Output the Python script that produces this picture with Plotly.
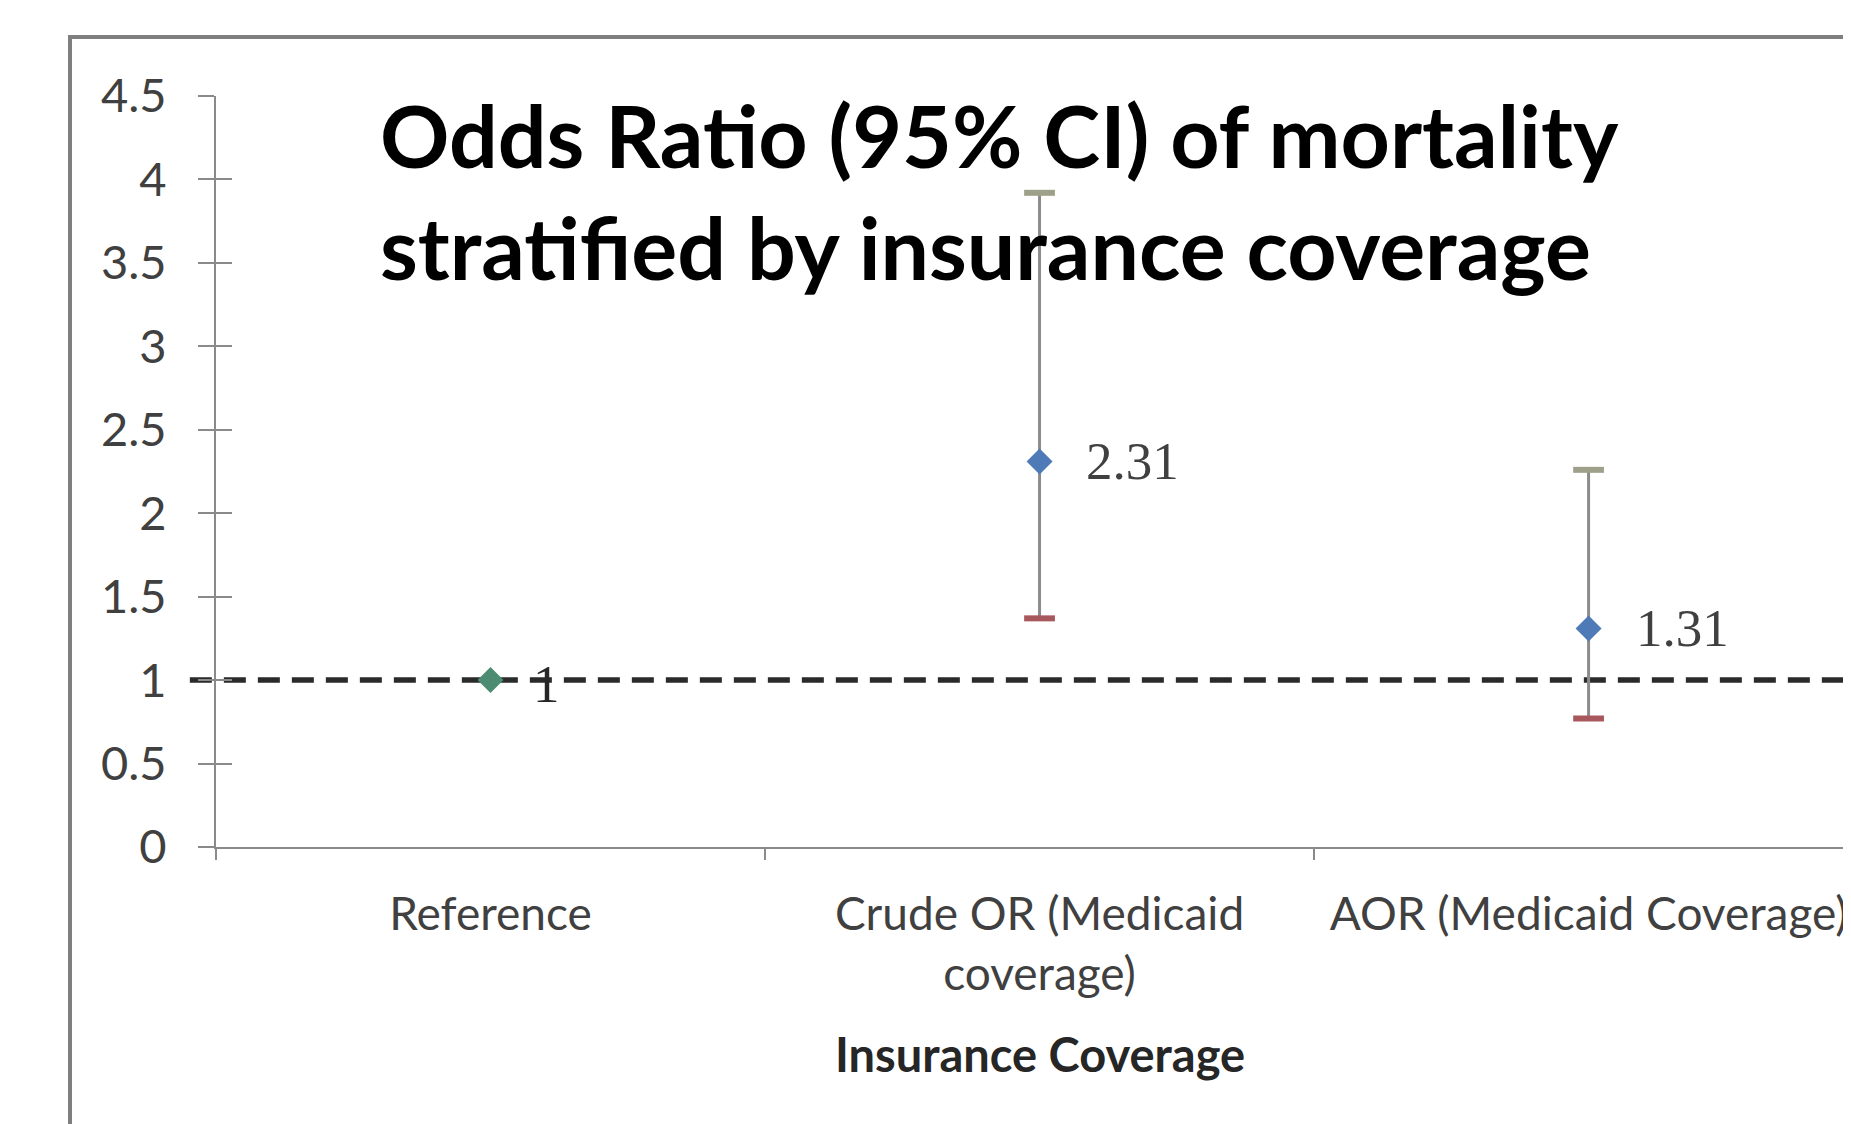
import plotly.graph_objects as go

# ---- data ----
categories = ["Reference", "Crude OR (Medicaid<br>coverage)", "AOR (Medicaid Coverage)"]
odds_ratio = [1.0, 2.31, 1.31]
ci_categories = ["Crude OR (Medicaid<br>coverage)", "AOR (Medicaid Coverage)"]
ci_or = [2.31, 1.31]
ci_low = [1.37, 0.77]
ci_high = [3.92, 2.26]
point_labels = ["1", "2.31", "1.31"]
y_tick_values = [0, 0.5, 1, 1.5, 2, 2.5, 3, 3.5, 4, 4.5]
y_tick_labels = ["0", "0.5", "1", "1.5", "2", "2.5", "3", "3.5", "4", "4.5"]
reference_value = 1.0
title_lines = ["Odds Ratio (95% CI) of mortality", "stratified by insurance coverage"]
x_title = "Insurance Coverage"

# ---- styles ----
AXIS_GRAY = "#8a8a8a"
Y_TICK_FONT = dict(family="Lato", size=47, color="#404040")
X_TICK_FONT = dict(family="Lato", size=46, color="#404040")
LABEL_FONT = dict(family="Liberation Serif", size=53, color="#404040")

fig = go.Figure()

# high-low lines (error bars without caps)
fig.add_trace(go.Scatter(
    x=ci_categories, y=ci_or, mode="markers",
    marker=dict(size=1, opacity=0),
    error_y=dict(type="data", symmetric=False,
                 array=[h - v for h, v in zip(ci_high, ci_or)],
                 arrayminus=[v - l for v, l in zip(ci_or, ci_low)],
                 color="#8c8c8c", thickness=3, width=0),
    hoverinfo="skip", showlegend=False))

# upper caps
fig.add_trace(go.Scatter(
    x=ci_categories, y=ci_high, mode="markers",
    marker=dict(symbol="line-ew", size=22, line=dict(color="#9ea08a", width=6)),
    showlegend=False))

# lower caps
fig.add_trace(go.Scatter(
    x=ci_categories, y=ci_low, mode="markers",
    marker=dict(symbol="line-ew", size=22, line=dict(color="#a8585c", width=6)),
    showlegend=False))

# point estimates
fig.add_trace(go.Scatter(
    x=categories[1:], y=odds_ratio[1:], mode="markers",
    marker=dict(symbol="diamond", size=20, color="#4f7ab8", line=dict(width=0)),
    showlegend=False))
fig.add_trace(go.Scatter(
    x=categories[:1], y=odds_ratio[:1], mode="markers",
    marker=dict(symbol="diamond", size=20, color="#4e8c72", line=dict(width=0)),
    showlegend=False))

# invisible trace for cross-tick overlay axis
fig.add_trace(go.Scatter(
    x=categories, y=odds_ratio, yaxis="y2", mode="markers",
    marker=dict(size=1, opacity=0), hoverinfo="skip", showlegend=False))

# reference line at OR = 1
fig.add_shape(type="line", xref="paper", yref="y",
              x0=-0.016, x1=1.0, y0=reference_value, y1=reference_value,
              line=dict(color="#2a2a2a", width=5.5, dash="22px,12px"), layer="below")

# outer chart frame
fig.add_shape(type="rect", xref="paper", yref="paper",
              x0=-0.0893, x1=1.05, y0=-0.4, y1=1.0785,
              line=dict(color="#7f7f7f", width=4), layer="below")

# data labels
shifts = [(40, -4), (44, 0), (45, 0)]
for cat, val, txt, (dx, dy) in zip(categories, odds_ratio, point_labels, shifts):
    fig.add_annotation(x=cat, y=val, xref="x", yref="y", text=txt,
                       showarrow=False, xanchor="left", yanchor="middle",
                       xshift=dx, yshift=dy,
                       font=dict(LABEL_FONT, color="#262626" if txt == "1" else "#404040"))

# title (two lines)
for line, ypos in zip(title_lines, [0.9482, 0.800]):
    fig.add_annotation(x=0.0991, y=ypos, xref="paper", yref="paper", text=f"<b>{line}</b>",
                       showarrow=False, xanchor="left", yanchor="middle",
                       font=dict(family="Lato", size=86, color="#000000"))

# x-axis title
fig.add_annotation(x=categories[1], y=-0.2756, xref="x", yref="paper",
                   text=f"<b>{x_title}</b>", showarrow=False,
                   xanchor="center", yanchor="middle",
                   font=dict(family="Lato", size=47, color="#262626"))

# page body has an 8px margin, so the figure is sized 8px smaller
fig.update_layout(
    width=1843, height=1116,
    margin=dict(l=208, r=0, t=88, b=277, pad=0, autoexpand=False),
    paper_bgcolor="white", plot_bgcolor="white",
    showlegend=False,
    xaxis=dict(type="category", categoryorder="array", categoryarray=categories,
               range=[-0.5, 2.478], tickson="boundaries", tickangle=0, automargin=False,
               ticks="outside", ticklen=11, tickwidth=2, tickcolor=AXIS_GRAY,
               showline=True, linecolor=AXIS_GRAY, linewidth=2,
               showgrid=False, zeroline=False, tickfont=X_TICK_FONT,
               ticklabelstandoff=26),
    yaxis=dict(range=[0, 4.5], tickvals=y_tick_values, ticktext=y_tick_labels,
               automargin=False,
               ticks="outside", ticklen=16, tickwidth=2, tickcolor=AXIS_GRAY,
               showline=True, linecolor=AXIS_GRAY, linewidth=2,
               showgrid=False, zeroline=False, tickfont=Y_TICK_FONT,
               ticklabelstandoff=22),
    yaxis2=dict(range=[0, 4.5], overlaying="y", side="left", tickvals=y_tick_values,
                automargin=False,
                ticks="inside", ticklen=16, tickwidth=2, tickcolor=AXIS_GRAY,
                showticklabels=False, showline=False, showgrid=False, zeroline=False),
)

fig.write_html("out.html")
